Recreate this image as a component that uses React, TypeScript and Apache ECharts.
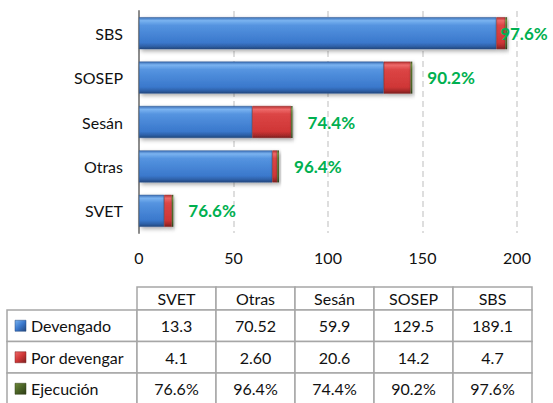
import React, { useEffect, useRef } from "react";
import * as echarts from "echarts";

const categories = ["SVET", "Otras", "Sesán", "SOSEP", "SBS"];
const devengado = [13.3, 70.52, 59.9, 129.5, 189.1];
const porDevengar = [4.1, 2.6, 20.6, 14.2, 4.7];
const ejecucion = [76.6, 96.4, 74.4, 90.2, 97.6];
const devengadoDecimals = [1, 2, 1, 1, 1];
const porDevengarDecimals = [1, 2, 1, 1, 1];
const seriesNames = ["Devengado", "Por devengar", "Ejecución"];
const xTicks = { min: 0, max: 200, interval: 50 };

const FONT = "Lato, 'Open Sans', sans-serif";

const grad = (c: string[]) =>
  new echarts.graphic.LinearGradient(0, 0, 0, 1, [
    { offset: 0, color: c[0] },
    { offset: 0.1, color: c[1] },
    { offset: 0.25, color: c[2] },
    { offset: 0.8, color: c[3] },
    { offset: 0.92, color: c[4] },
    { offset: 1, color: c[5] },
  ]);

const blue = ["#3c70b8", "#7ab3f0", "#5594e0", "#3a78cc", "#2d5fa6", "#22467c"];
const red = ["#b83030", "#ee6a6a", "#dc4545", "#cf3636", "#a82a2a", "#7c1f1f"];
const green = ["#3d4f1f", "#6f8a3a", "#55702c", "#4a6226", "#3d5020", "#2e3c17"];

const iconGrad = (c: string[]) =>
  new echarts.graphic.LinearGradient(0, 0, 1, 1, [
    { offset: 0, color: c[1] },
    { offset: 0.5, color: c[3] },
    { offset: 1, color: c[5] },
  ]);

function buildTable() {
  const left = 7;
  const labelW = 130;
  const colW = 79;
  const headerTop = 287;
  const headerH = 23;
  const rowH = 31.5;
  const stroke = "#a6a6a6";
  const els: any[] = [];
  const textStyle = { font: `16px ${FONT}`, fill: "#111" };
  categories.forEach((c, i) => {
    const x = left + labelW + i * colW;
    els.push({
      type: "rect",
      shape: { x, y: headerTop, width: colW, height: headerH },
      style: { fill: "#fff", stroke, lineWidth: 1.5 },
    });
    els.push({
      type: "text",
      x: x + colW / 2,
      y: headerTop + headerH / 2,
      style: { ...textStyle, text: c, align: "center", verticalAlign: "middle" },
    });
  });
  const rows = [
    devengado.map((v, i) => v.toFixed(devengadoDecimals[i])),
    porDevengar.map((v, i) => v.toFixed(porDevengarDecimals[i])),
    ejecucion.map((v) => v.toFixed(1) + "%"),
  ];
  const colors = [blue, red, green];
  rows.forEach((vals, r) => {
    const y = headerTop + headerH + r * rowH;
    els.push({
      type: "rect",
      shape: { x: left, y, width: labelW, height: rowH },
      style: { fill: "#fff", stroke, lineWidth: 1.5 },
    });
    els.push({
      type: "rect",
      shape: { x: left + 8, y: y + rowH / 2 - 5.5, width: 11, height: 11 },
      style: { fill: iconGrad(colors[r]), stroke: colors[r][5], lineWidth: 0.5 },
    });
    els.push({
      type: "text",
      x: left + 24,
      y: y + rowH / 2,
      style: { ...textStyle, text: seriesNames[r], align: "left", verticalAlign: "middle" },
    });
    vals.forEach((v, i) => {
      const x = left + labelW + i * colW;
      els.push({
        type: "rect",
        shape: { x, y, width: colW, height: rowH },
        style: { fill: "#fff", stroke, lineWidth: 1.5 },
      });
      els.push({
        type: "text",
        x: x + colW / 2,
        y: y + rowH / 2,
        style: { ...textStyle, text: v, align: "center", verticalAlign: "middle" },
      });
    });
  });
  return els;
}

export default function App() {
  const ref = useRef<HTMLDivElement>(null);
  useEffect(() => {
    if (!ref.current) return;
    const chart = echarts.init(ref.current, undefined, { renderer: "svg" });
    const shadow = {
      shadowColor: "rgba(0,0,0,0.35)",
      shadowBlur: 4,
      shadowOffsetX: 2,
      shadowOffsetY: 2,
    };
    chart.setOption({
      animation: false,
      backgroundColor: "#fff",
      grid: { left: 139, right: 36, top: 11, height: 222, containLabel: false },
      xAxis: {
        type: "value",
        min: xTicks.min,
        max: xTicks.max,
        interval: xTicks.interval,
        axisLine: { show: false },
        axisTick: { show: false },
        axisLabel: { color: "#111", fontSize: 16, fontFamily: FONT, margin: 16 },
        splitLine: { show: true, lineStyle: { color: "#d4d4d4", width: 1.5, type: [6, 4] } },
      },
      yAxis: {
        type: "category",
        data: categories,
        axisLine: { show: true, lineStyle: { color: "#8c8c8c", width: 2 } },
        axisTick: { show: false },
        axisLabel: { color: "#111", fontSize: 16, fontFamily: FONT, margin: 16 },
      },
      series: [
        {
          name: seriesNames[0],
          type: "bar",
          stack: "s",
          barCategoryGap: "28%",
          data: devengado,
          itemStyle: { color: grad(blue), borderColor: "#2a548c", borderWidth: 0.5, ...shadow },
        },
        {
          name: seriesNames[1],
          type: "bar",
          stack: "s",
          data: porDevengar,
          itemStyle: { color: grad(red), borderColor: "#8a2424", borderWidth: 0.5, ...shadow },
        },
        {
          name: seriesNames[2],
          type: "bar",
          stack: "s",
          data: ejecucion.map((v, i) => ({
            value: v / 100,
            label: i === ejecucion.length - 1 ? { distance: -7 } : undefined,
          })),
          itemStyle: { color: grad(green), ...shadow },
          label: {
            show: true,
            position: "right",
            distance: 15,
            color: "#00b050",
            fontWeight: "bold",
            fontSize: 17,
            fontFamily: FONT,
            formatter: (p: any) => ejecucion[p.dataIndex].toFixed(1) + "%",
          },
        },
      ],
      graphic: buildTable(),
    });
    return () => chart.dispose();
  }, []);
  return <div ref={ref} style={{ width: 553, height: 403, position: "absolute", left: 0, top: 0 }} />;
}
